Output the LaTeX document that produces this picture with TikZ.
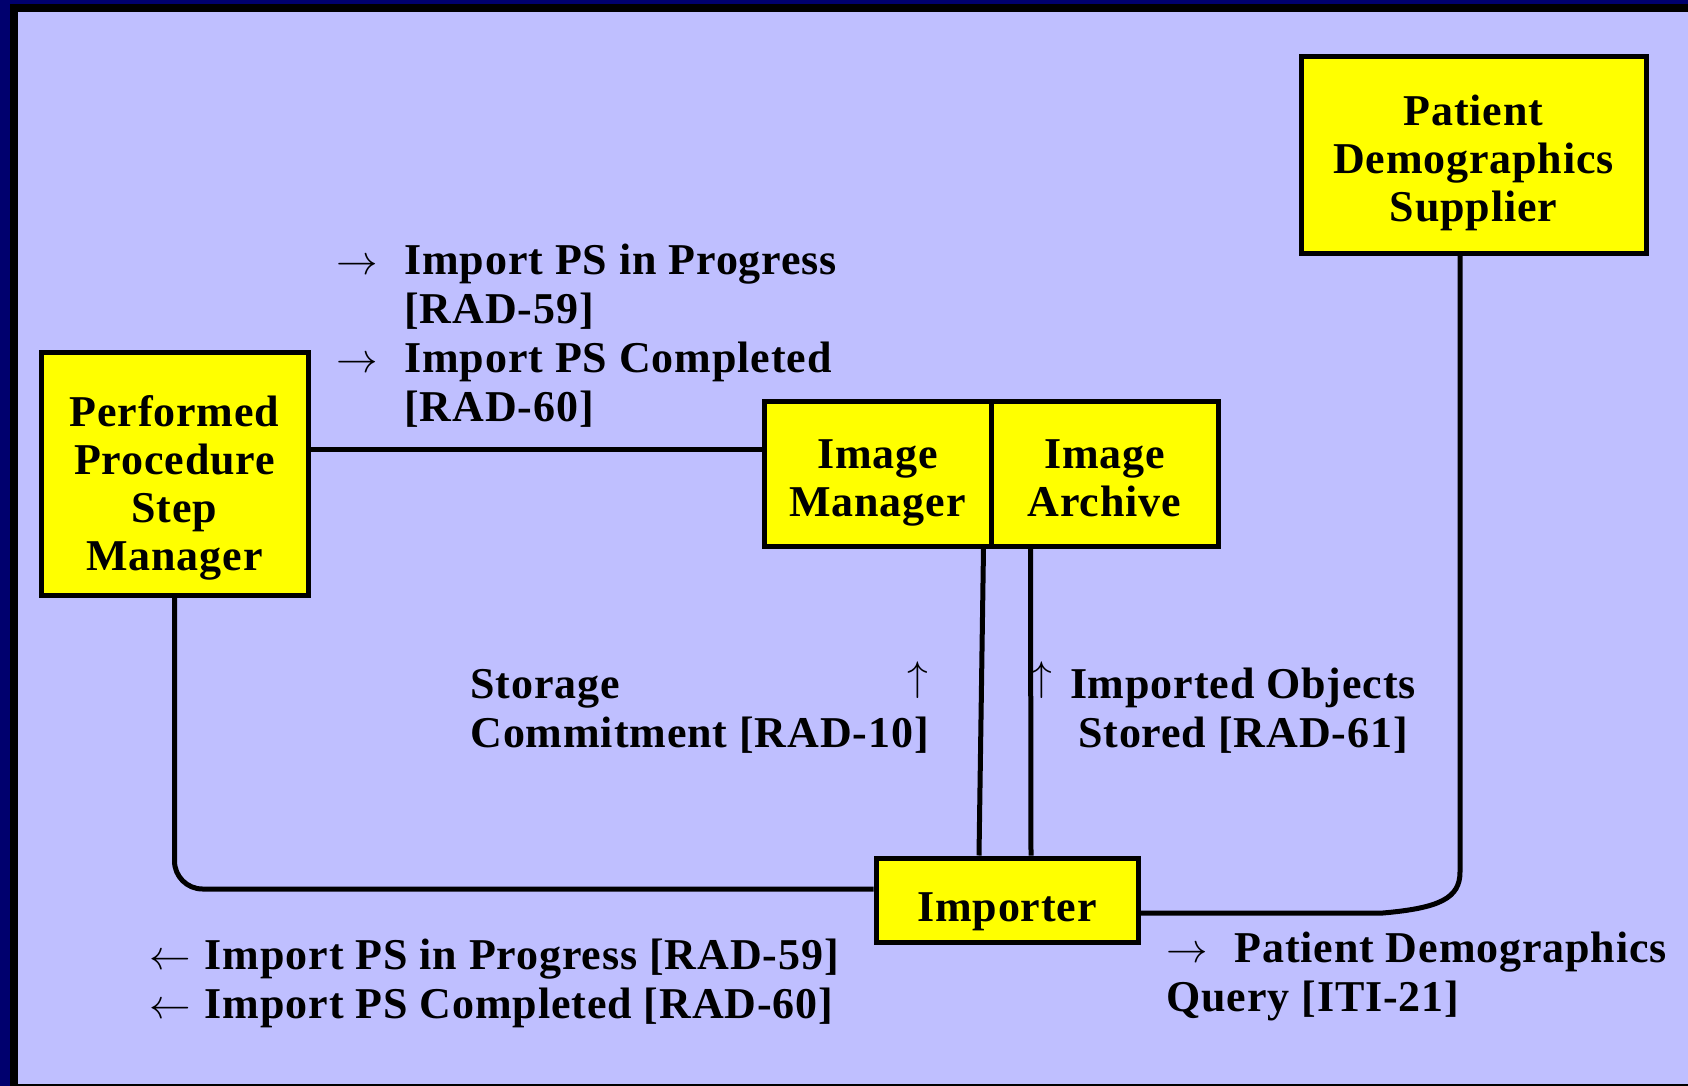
\documentclass[tikz,border=0pt]{standalone}
\usepackage{fontspec}
\setmainfont{Liberation Serif}[LetterSpace=2.0]
\usetikzlibrary{positioning,calc}
\definecolor{framenavy}{RGB}{0,0,110}
\definecolor{panelblue}{RGB}{191,191,255}
\definecolor{actoryellow}{RGB}{255,255,0}
\newcommand{\ra}{\ensuremath{\rightarrow}}
\newcommand{\la}{\ensuremath{\leftarrow}}
\newcommand{\ua}{\ensuremath{\uparrow}}

\begin{document}
\begin{tikzpicture}[x=0.5pt, y=-0.5pt,
  actor/.style={draw, line width=2.5pt, fill=actoryellow, inner sep=0pt},
  actortext/.style={align=center, inner sep=0pt, font=\fontsize{22}{24}\selectfont\bfseries},
  msg/.style={inner sep=0pt, align=left, font=\fontsize{22}{24.5}\selectfont\bfseries},
  link/.style={line width=2.5pt}]
  % frame and panel
  \useasboundingbox (0,0) rectangle (1688,1086);
  \fill[framenavy] (0,0) rectangle (1688,1086);
  \draw[line width=4pt, fill=panelblue] (14,8) rectangle (1720,1088);

  % actors
  \node[actor, minimum width=133.5pt, minimum height=121.5pt,
    label={[actortext, yshift=-7pt]center:{Performed\\Procedure\\Step\\Manager}}] (ppsm) at (174.5,473.5) {};
  \node[actor, minimum width=113.5pt, minimum height=72.5pt,
    label={[actortext, yshift=-4.8pt]center:{Image\\Manager}}] (imgmgr) at (877.5,473.5) {};
  \node[actor, minimum width=113.5pt, minimum height=72.5pt,
    label={[actortext, yshift=-2.6pt]center:{Image\\Archive}}] (imgarch) at (1104.5,473.5) {};
  \node[actor, minimum width=172.5pt, minimum height=98pt,
    label={[actortext, yshift=-4pt]center:{Patient\\Demographics\\Supplier}}] (pds) at (1473.5,155) {};
  \node[actor, minimum width=131pt, minimum height=42pt,
    label={[actortext, yshift=-6pt]center:Importer}] (importer) at (1007,900) {};

  % connectors
  \draw[link] ([yshift=12.25pt]ppsm.east) -- ([yshift=12.25pt]imgmgr.west);
  \draw[link, rounded corners=14pt] (ppsm.south) |- ([yshift=5.5pt]importer.west);
  \draw[link] ([xshift=-5pt]imgmgr.south east) -- ([xshift=-14pt]importer.north);
  \draw[link] ([xshift=21pt]imgarch.south west) -- ([xshift=12pt]importer.north);
  \draw[link] ([yshift=-6.5pt]importer.east) -- (1383,913) .. controls (1440,908) and (1460,898) .. (1460,872) -- ([xshift=-6.75pt]pds.south);

  % transactions (base = last line)
  \node[msg, anchor=base west] (toimgmgr) at (404,421) {\llap{\makebox[34pt][l]{\ra}}Import PS in Progress\\{[RAD-59]}\\\llap{\makebox[34pt][l]{\ra}}Import PS Completed\\{[RAD-60]}};
  \node[msg, anchor=base west] (stcommit) at (470,747) {Storage\\Commitment [RAD-10]};
  \node[msg] (stcommitup) at (918,680) {\ua};
  \node[msg, align=center, anchor=base] (objstored) at (1243,747) {Imported Objects\\Stored [RAD-61]};
  \node[msg] (objstoredup) at (1042,680) {\ua};
  \node[msg, anchor=base west] (toppsm) at (204.5,1018) {\llap{\makebox[27.75pt][l]{\la}}Import PS in Progress [RAD-59]\\\llap{\makebox[27.75pt][l]{\la}}Import PS Completed [RAD-60]};
  \node[msg, anchor=base west] (pdquery) at (1166,1011) {\makebox[34pt][l]{\ra}Patient Demographics\\Query [ITI-21]};
\end{tikzpicture}
\end{document}
